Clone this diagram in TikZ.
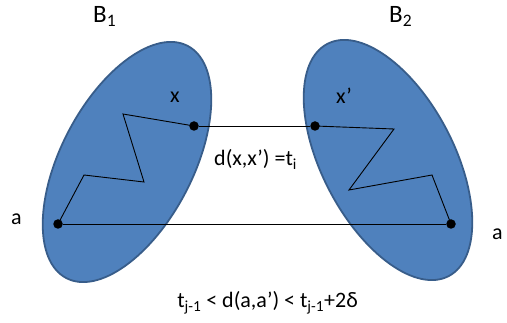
\documentclass[tikz,border=0pt]{standalone}
\usepackage{fontspec}
\setmainfont{Carlito}
\begin{document}
\begin{tikzpicture}[x=1pt,y=-1pt,
  blob/.style={draw=blobedge,fill=blobfill,line width=1.8pt},
  dotnode/.style={circle,fill=black,inner sep=0pt,minimum size=9.5pt},
  lbl/.style={font=\fontsize{22}{26}\selectfont,inner sep=0pt,anchor=base},
  biglbl/.style={font=\fontsize{25}{30}\selectfont,inner sep=0pt,anchor=base west},
  wire/.style={draw=black,line width=0.9pt}]
\definecolor{blobfill}{HTML}{4F81BD}
\definecolor{blobedge}{HTML}{385D8A}
\useasboundingbox (0,0) rectangle (507,323);
\fill[white] (0,0) rectangle (507,323);
\draw[blob] (127,162) ellipse[x radius=131, y radius=66, rotate=62.4];
\draw[blob] (388,160) ellipse[x radius=131, y radius=66, rotate=-62.4];
\node[dotnode] (x) at (194,126) {};
\node[dotnode] (a) at (58,224) {};
\node[dotnode] (xp) at (315,126) {};
\node[dotnode] (ap) at (451,224) {};
\coordinate (z1) at (84,175);
\coordinate (z2) at (144,182);
\coordinate (z3) at (123,114);
\coordinate (w1) at (394,129);
\coordinate (w2) at (349,190);
\coordinate (w3) at (432,175);
\draw[wire] (a.center) -- (z1) -- (z2) -- (z3) -- (x.center);
\draw[wire] (xp.center) -- (w1) -- (w2) -- (w3) -- (ap.center);
\draw[wire] (x) -- (xp);
\draw[wire] (a) -- (ap);
\node[biglbl] (B1) at (93,22.5) {B\textsubscript{1}};
\node[biglbl] (B2) at (389,22.5) {B\textsubscript{2}};
\node[lbl] (lx) at (175,103) {x};
\node[lbl] (lxp) at (344,104) {x’};
\node[lbl] (la) at (16.5,225) {a};
\node[lbl,anchor=base west] (lap) at (492,240) {a};
\node[lbl,anchor=base west] (dx) at (214,166) {d(x,x’) =t\textsubscript{i}};
\node[lbl,anchor=base east] (da) at (358,308) {t\textsubscript{j-1} < d(a,a’) < t\textsubscript{j-1}+2δ};
\end{tikzpicture}
\end{document}
